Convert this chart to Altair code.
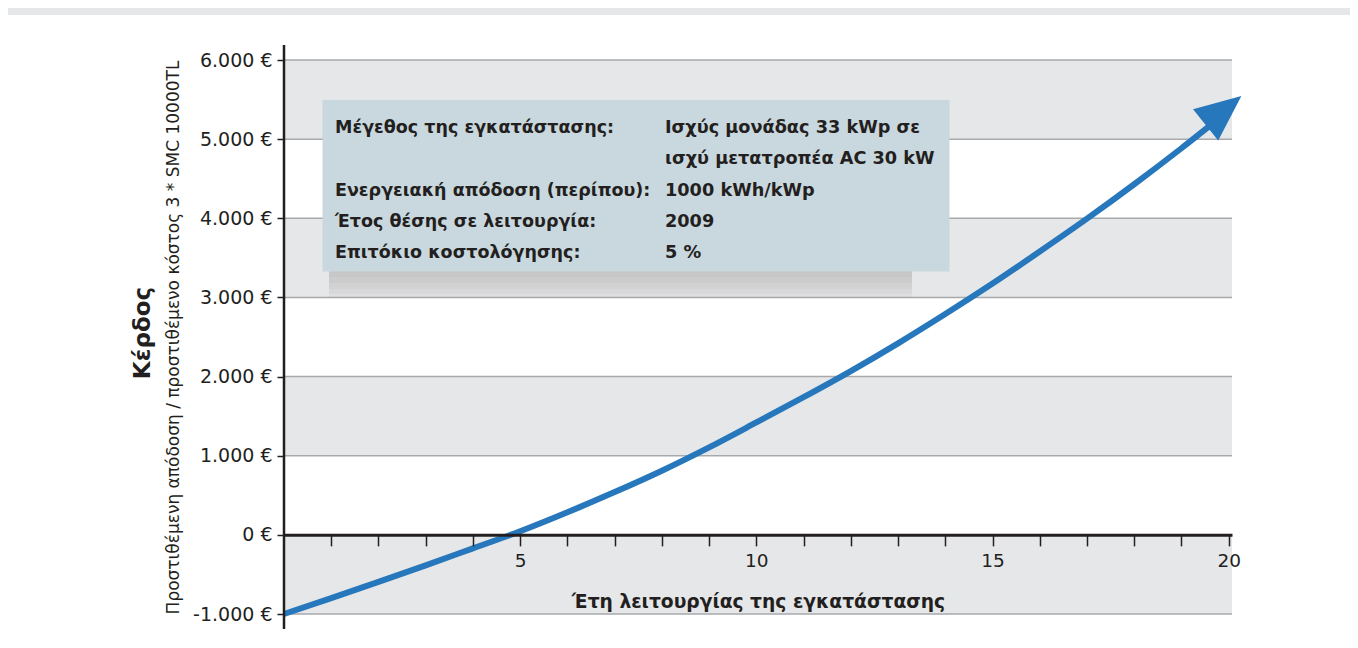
import altair as alt
import pandas as pd

# ---------------- data ----------------
years = list(range(0, 21))
profit = [-1000, -800, -595, -385, -170, 45, 285, 540, 810, 1105, 1420,
          1740, 2070, 2420, 2790, 3175, 3580, 3995, 4430, 4885, 5360]

y_ticks = [-1000, 0, 1000, 2000, 3000, 4000, 5000, 6000]
band_lo = [-1000, 1000, 3000, 5000]
band_hi = [0, 2000, 4000, 6000]
x_ticks = list(range(1, 21))

arrow_year = [19.89]
arrow_value = [5363]

info_left = ["Μέγεθος της εγκατάστασης:", "", "Ενεργειακή απόδοση (περίπου):",
             "Έτος θέσης σε λειτουργία:", "Επιτόκιο κοστολόγησης:"]
info_right = ["Ισχύς μονάδας 33 kWp σε", "ισχύ μετατροπέα AC 30 kW",
              "1000 kWh/kWp", "2009", "5 %"]

x_title = "Έτη λειτουργίας της εγκατάστασης"
y_title = "Προστιθέμενη απόδοση / προστιθέμενο κόστος 3 * SMC 10000TL"
main_title = "Κέρδος"

# ---------------- style ----------------
W, H = 948, 554
FONT = "DejaVu Sans"
DARK = "#231f20"
BLUE = "#2677bb"
BAND = "#e6e7e9"
GRID = "#a7a9ac"
BOX = "#c9d7de"
LH = 31.25
TY = 73

df = pd.DataFrame({"year": years, "profit": profit})
bands = pd.DataFrame({"lo": band_lo, "hi": band_hi})
grid = pd.DataFrame({"profit": y_ticks})
arrow = pd.DataFrame({"year": arrow_year, "profit": arrow_value})
one = pd.DataFrame({"a": [0]})

x_scale = alt.Scale(domain=[0, 20.07], nice=False, zero=False)
y_scale = alt.Scale(domain=[-1000, 6000], nice=False, zero=False)

x_axis = alt.Axis(values=x_ticks, offset=-79.14, zindex=1,
                  domain=True, domainColor=DARK, domainWidth=3,
                  ticks=True, tickColor=DARK, tickWidth=1.5, tickSize=11,
                  labelExpr="datum.value % 5 === 0 ? datum.value : ''",
                  labelFont=FONT, labelFontSize=18.5, labelColor=DARK,
                  labelPadding=6, labelFlush=False,
                  grid=False, title=x_title, titleFont=FONT,
                  titleFontSize=18.7, titleFontWeight="bold",
                  titleColor=DARK, titlePadding=22)

y_axis = alt.Axis(values=y_ticks, zindex=1, domain=False,
                  ticks=True, tickColor=DARK, tickWidth=1.5, tickSize=7,
                  labelExpr="(datum.value < 0 ? '-' : '') + replace(format(abs(datum.value), ',d'), ',', '.') + ' €'",
                  labelFont=FONT, labelFontSize=19, labelColor=DARK,
                  labelPadding=5, grid=False,
                  title=y_title, titleFont=FONT, titleFontSize=17,
                  titleFontWeight="normal", titleColor=DARK,
                  titlePadding=10)

top_stripe = alt.Chart(one).mark_rect(color=BAND).encode(
    x=alt.value(-276), x2=alt.value(1066), y=alt.value(-52), y2=alt.value(-45))

band_layer = alt.Chart(bands).mark_rect(color=BAND).encode(
    x=alt.value(0), x2=alt.value(W),
    y=alt.Y("lo:Q", scale=y_scale, axis=y_axis),
    y2="hi:Q")

grid_layer = alt.Chart(grid).mark_rule(color=GRID, strokeWidth=1.5).encode(
    x=alt.value(0), x2=alt.value(W),
    y=alt.Y("profit:Q", scale=y_scale, axis=y_axis))

shadows = [
    alt.Chart(one).mark_rect(color="#8a8a8a", opacity=0.08).encode(
        x=alt.value(45), x2=alt.value(628), y=alt.value(211), y2=alt.value(yb))
    for yb in (217, 223, 229, 234, 238)
]

box = alt.Chart(one).mark_rect(color=BOX).encode(
    x=alt.value(38.5), x2=alt.value(665.5), y=alt.value(40), y2=alt.value(211.5))

text_style = dict(font=FONT, fontWeight="bold", color=DARK, align="left",
                  baseline="alphabetic", lineHeight=LH)

txt_left_a = alt.Chart(one).mark_text(text=info_left[0], fontSize=17.5, **text_style).encode(
    x=alt.value(51), y=alt.value(TY))

txt_left_b = alt.Chart(one).mark_text(text=info_left[2:], fontSize=17.5, **text_style).encode(
    x=alt.value(51), y=alt.value(TY + 2 * LH))

txt_right = alt.Chart(one).mark_text(text=info_right, fontSize=17.7, **text_style).encode(
    x=alt.value(381), y=alt.value(TY))

main_title_layer = alt.Chart(one).mark_text(
    text=main_title, font=FONT, fontSize=23, fontWeight="bold", color=DARK,
    align="center", baseline="middle", angle=270).encode(
    x=alt.value(-141), y=alt.value(273))

curve = alt.Chart(df).mark_line(color=BLUE, strokeWidth=6, interpolate="monotone").encode(
    x=alt.X("year:Q", scale=x_scale, axis=x_axis),
    y=alt.Y("profit:Q", scale=y_scale, axis=y_axis))

arrow_head = alt.Chart(arrow).mark_point(
    shape="M0,-1L-0.87,1L0.87,1Z", filled=True, size=2116, angle=51,
    color=BLUE, opacity=1, strokeWidth=0).encode(
    x=alt.X("year:Q", scale=x_scale, axis=x_axis),
    y=alt.Y("profit:Q", scale=y_scale, axis=y_axis))

y_axis_line = alt.Chart(one).mark_rule(color=DARK, strokeWidth=2.5).encode(
    x=alt.value(0), y=alt.value(-15), y2=alt.value(569))

chart = alt.layer(
    top_stripe, band_layer, grid_layer, *shadows, box, txt_left_a, txt_left_b,
    txt_right, main_title_layer, curve, arrow_head, y_axis_line
).properties(
    width=W, height=H,
    autosize=alt.AutoSizeParams(type="none"),
    padding={"left": 276, "top": 52, "right": 118, "bottom": 24},
    background="white",
).configure_view(stroke=None)

chart.save("out.html", embed_options={"renderer": "svg", "actions": False})
